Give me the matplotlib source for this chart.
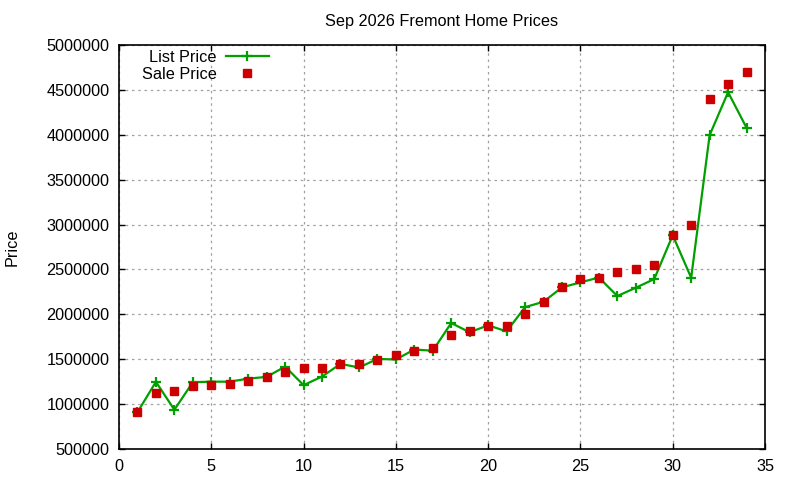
import matplotlib
matplotlib.use("Agg")
import matplotlib.pyplot as plt

plt.rcParams["font.family"] = ["Liberation Sans", "DejaVu Sans"]

# data
days = list(range(1, 35))
list_price = [
    910000, 1248000, 937000, 1244000, 1250000, 1250000, 1284000, 1303000,
    1418000, 1211000, 1307000, 1448000, 1408000, 1503000, 1497000, 1608000,
    1595000, 1903000, 1800000, 1878000, 1810000, 2080000, 2140000, 2300000,
    2356000, 2410000, 2204000, 2296000, 2393000, 2881000, 2407000, 3996000,
    4474000, 4078000,
]
sale_price = [
    907000, 1129000, 1151000, 1203000, 1214000, 1229000, 1259000, 1300000,
    1362000, 1407000, 1407000, 1451000, 1448000, 1492000, 1544000, 1592000,
    1622000, 1770000, 1814000, 1870000, 1870000, 2003000, 2137000, 2303000,
    2393000, 2407000, 2474000, 2507000, 2548000, 2881000, 2993000, 4404000,
    4563000, 4696000,
]
x_ticks = [0, 5, 10, 15, 20, 25, 30, 35]
y_ticks = list(range(500000, 5000001, 500000))

fig = plt.figure(figsize=(8, 4.8), dpi=100)
ax = fig.add_axes([119 / 800, 1 - 449 / 480, (765 - 119) / 800, (449 - 45) / 480])

ax.plot(days, list_price, color="#00a000", linewidth=1.6, marker="+",
        markersize=7, markeredgewidth=1.6, label="List Price", zorder=3)
ax.plot(days, sale_price, linestyle="none", marker="s", markersize=6,
        color="#cc0000", label="Sale Price", zorder=4)

ax.set_xlim(0, 35)
ax.set_ylim(500000, 5000000)
ax.set_xticks(x_ticks)
ax.set_yticks(y_ticks)
ax.set_yticklabels([str(v) for v in y_ticks])
ax.grid(True, color="#a0a0a0", linestyle=(0, (2, 3)), linewidth=0.9)
ax.tick_params(direction="in", length=4, width=1, labelsize=11.7,
               top=True, right=True, colors="black", pad=7)
for s in ax.spines.values():
    s.set_linewidth(1.2)

ax.set_title("Sep 2026 Fremont Home Prices", fontsize=11.7, pad=14)
fig.text(12 / 800, 1 - 247 / 480, "Price", rotation=90, fontsize=11.7,
         ha="center", va="center")

leg = ax.legend(loc="upper left", frameon=False, markerfirst=False,
                fontsize=11.7, handlelength=2.6, borderaxespad=0.0,
                bbox_to_anchor=(0.030, 0.996), labelspacing=0.14,
                handletextpad=0.6, borderpad=0.2)
for t in leg.get_texts():
    t.set_ha("right")
leg._legend_box.align = "right"

fig.savefig("out.png", dpi=100)
